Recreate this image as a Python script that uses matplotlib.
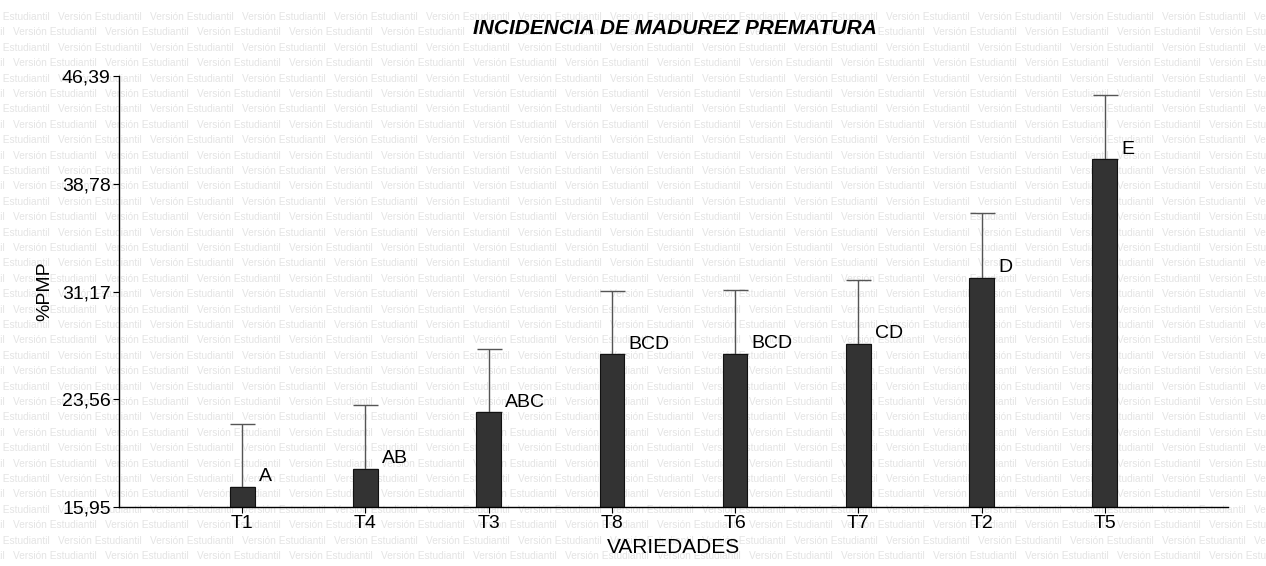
import matplotlib
matplotlib.use("Agg")
import matplotlib.pyplot as plt
import numpy as np

categories = ["T1", "T4", "T3", "T8", "T6", "T7", "T2", "T5"]
means = [17.36, 18.63, 22.64, 26.73, 26.78, 27.46, 32.14, 40.50]
errors = [4.45, 4.52, 4.45, 4.50, 4.50, 4.52, 4.55, 4.57]
letters = ["A", "AB", "ABC", "BCD", "BCD", "CD", "D", "E"]
yticks = [15.95, 23.56, 31.17, 38.78, 46.39]
ytick_labels = ["15,95", "23,56", "31,17", "38,78", "46,39"]

plt.rcParams['font.family'] = ['Liberation Sans', 'DejaVu Sans']

W, H = 1266, 566
fig = plt.figure(figsize=(W / 100, H / 100), dpi=100)
fig.patch.set_facecolor("white")

# watermark background
row_h = 15.4
step = 92
for r in range(int(H / row_h) + 2):
    ypix = 17 + r * row_h
    off = 58 if r % 2 == 0 else 13
    x0 = off - 2 * step
    while x0 < W:
        fig.text(x0 / W, 1 - ypix / H, "Versión Estudiantil", fontsize=7.3,
                 color="#e4e4e4", va="center", ha="left", zorder=-5)
        x0 += step

ax = fig.add_axes([119 / W, 1 - 507 / H, (1228 - 119) / W, (507 - 76) / H])
ax.patch.set_alpha(0)

x = np.arange(1, len(categories) + 1)
ax.errorbar(x, means, yerr=[np.zeros(len(errors)), errors], fmt="none",
            ecolor="#555555", elinewidth=1, capsize=9, capthick=1, zorder=1)
ax.bar(x, means, width=0.2, bottom=0, color="#333333", edgecolor="#111111",
       linewidth=0.8, zorder=2)

for xi, m, lab in zip(x, means, letters):
    ax.annotate(lab, xy=(xi + 0.1, m), xytext=(3, 4), textcoords="offset points",
                ha="left", va="baseline", fontsize=14, color="black")

ax.set_xlim(0, 9)
ax.set_ylim(15.95, 46.39)
ax.set_yticks(yticks)
ax.set_yticklabels(ytick_labels, fontsize=14)
ax.set_xticks(x)
ax.set_xticklabels(categories, fontsize=14)
ax.tick_params(axis="both", direction="out", length=4, width=0.8, pad=2)
for s in ["top", "right"]:
    ax.spines[s].set_visible(False)
for s in ["left", "bottom"]:
    ax.spines[s].set_linewidth(1)
    ax.spines[s].set_color("black")

ax.set_xlabel("VARIEDADES", fontsize=15, labelpad=4)
ax.set_ylabel("%PMP", fontsize=14, labelpad=6)

fig.text(675 / W, 1 - 28 / H, "INCIDENCIA DE MADUREZ PREMATURA", fontsize=15,
         fontweight="bold", fontstyle="italic", ha="center", va="center")

fig.savefig("out.png", dpi=100)
